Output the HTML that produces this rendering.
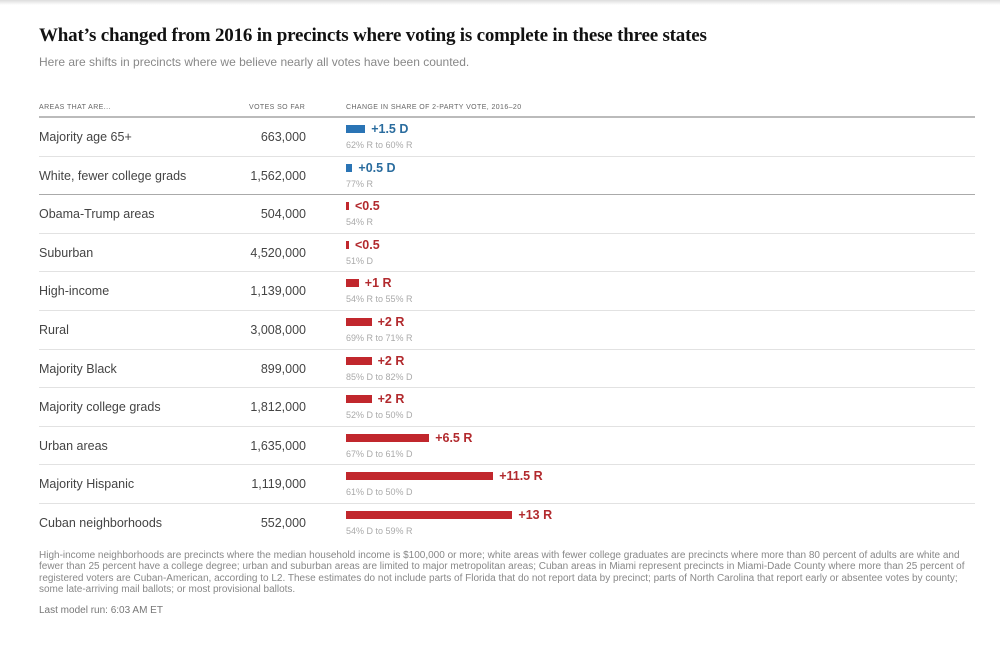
<!DOCTYPE html>
<html><head><meta charset="utf-8"><style>
body{margin:0;width:1000px;height:662px;background:#fff;font-family:"Liberation Sans",sans-serif;position:relative;overflow:hidden}
.topbar{position:absolute;left:0;top:0;width:1000px;height:5px;background:linear-gradient(#ddd,#fff)}
h1{position:absolute;left:39px;top:25px;margin:0;font:bold 19px "Liberation Serif",serif;color:#121212;letter-spacing:-0.2px}
.sub{position:absolute;left:39px;top:55px;font-size:12px;color:#888}
.hdr{position:absolute;top:104px;font-size:7px;color:#666;letter-spacing:0.4px}
.line{position:absolute;left:39px;width:936px;height:1px;background:#e2e2e2}
.lab{position:absolute;left:39px;font-size:12.5px;color:#444}
.vot{position:absolute;left:200px;width:106px;text-align:right;font-size:12.5px;color:#444}
.bar{position:absolute;height:8px}
.val{position:absolute;font-size:12.5px;font-weight:bold}
.sm{position:absolute;left:346px;font-size:9px;color:#aaa}
.note{position:absolute;left:39px;top:550px;width:945px;font-family:"Liberation Sans Narrow","Liberation Sans",sans-serif;font-size:10px;line-height:11.3px;color:#888}
.run{position:absolute;left:39px;top:605px;font-family:"Liberation Sans Narrow","Liberation Sans",sans-serif;font-size:10px;color:#777}
</style></head><body>
<div class="topbar"></div>
<h1>What’s changed from 2016 in precincts where voting is complete in these three states</h1>
<div class="sub">Here are shifts in precincts where we believe nearly all votes have been counted.</div>
<div class="hdr" style="left:39px">AREAS THAT ARE...</div>
<div class="hdr" style="left:249px">VOTES SO FAR</div>
<div class="hdr" style="left:346px">CHANGE IN SHARE OF 2-PARTY VOTE, 2016–20</div>
<div class="line" style="top:116px;height:2px;background:#bbb"></div>
<div id="rows"></div>
<div class="note">High-income neighborhoods are precincts where the median household income is $100,000 or more; white areas with fewer college graduates are precincts where more than 80 percent of adults are white and fewer than 25 percent have a college degree; urban and suburban areas are limited to major metropolitan areas; Cuban areas in Miami represent precincts in Miami-Dade County where more than 25 percent of registered voters are Cuban-American, according to L2. These estimates do not include parts of Florida that do not report data by precinct; parts of North Carolina that report early or absentee votes by county; some late-arriving mail ballots; or most provisional ballots.</div>
<div class="run">Last model run: 6:03 AM ET</div>
<script>
const categories=["Majority age 65+","White, fewer college grads","Obama-Trump areas","Suburban","High-income","Rural","Majority Black","Majority college grads","Urban areas","Majority Hispanic","Cuban neighborhoods"];
const votes=["663,000","1,562,000","504,000","4,520,000","1,139,000","3,008,000","899,000","1,812,000","1,635,000","1,119,000","552,000"];
const shifts=[1.5,0.5,0.2,0.2,1,2,2,2,6.5,11.5,13];
const parties=["D","D","R","R","R","R","R","R","R","R","R"];
const valueLabels=["+1.5 D","+0.5 D","<0.5","<0.5","+1 R","+2 R","+2 R","+2 R","+6.5 R","+11.5 R","+13 R"];
const details=["62% R to 60% R","77% R","54% R","51% D","54% R to 55% R","69% R to 71% R","85% D to 82% D","52% D to 50% D","67% D to 61% D","61% D to 50% D","54% D to 59% R"];
const x0=346,pxPerPt=12.8,top0=117,rowH=38.6;
const xScale=v=>v*pxPerPt;
const root=document.getElementById('rows');
categories.forEach((c,i)=>{
  const y=top0+i*rowH;
  const col=parties[i]==="D"?"#2a74b5":"#c1272d";
  const tcol=parties[i]==="D"?"#2a6c9e":"#b22a2e";
  const lab=document.createElement('div');lab.className='lab';lab.style.top=(y+13)+'px';lab.textContent=c;
  
  
  root.appendChild(lab);
  const v=document.createElement('div');v.className='vot';v.style.top=(y+13)+'px';v.textContent=votes[i];
  
  
  root.appendChild(v);
  const w=Math.max(3,xScale(shifts[i]));
  const b=document.createElement('div');b.className='bar';b.style.left=x0+'px';b.style.top=(y+8)+'px';b.style.width=w+'px';b.style.background=col;
  
  
  root.appendChild(b);
  const vl=document.createElement('div');vl.className='val';vl.style.left=(x0+w+6)+'px';vl.style.top=(y+5)+'px';vl.style.color=tcol;vl.textContent=valueLabels[i];
  
  
  root.appendChild(vl);
  const s=document.createElement('div');s.className='sm';s.style.top=(y+23)+'px';s.textContent=details[i];
  
  
  root.appendChild(s);
  if(i<categories.length-1){
    const l=document.createElement('div');l.className='line';l.style.top=Math.round(y+rowH)+'px';
    if(i===1){l.style.background='#aaa';}
    
    
    root.appendChild(l);
  }
});
</script>
</body></html>
